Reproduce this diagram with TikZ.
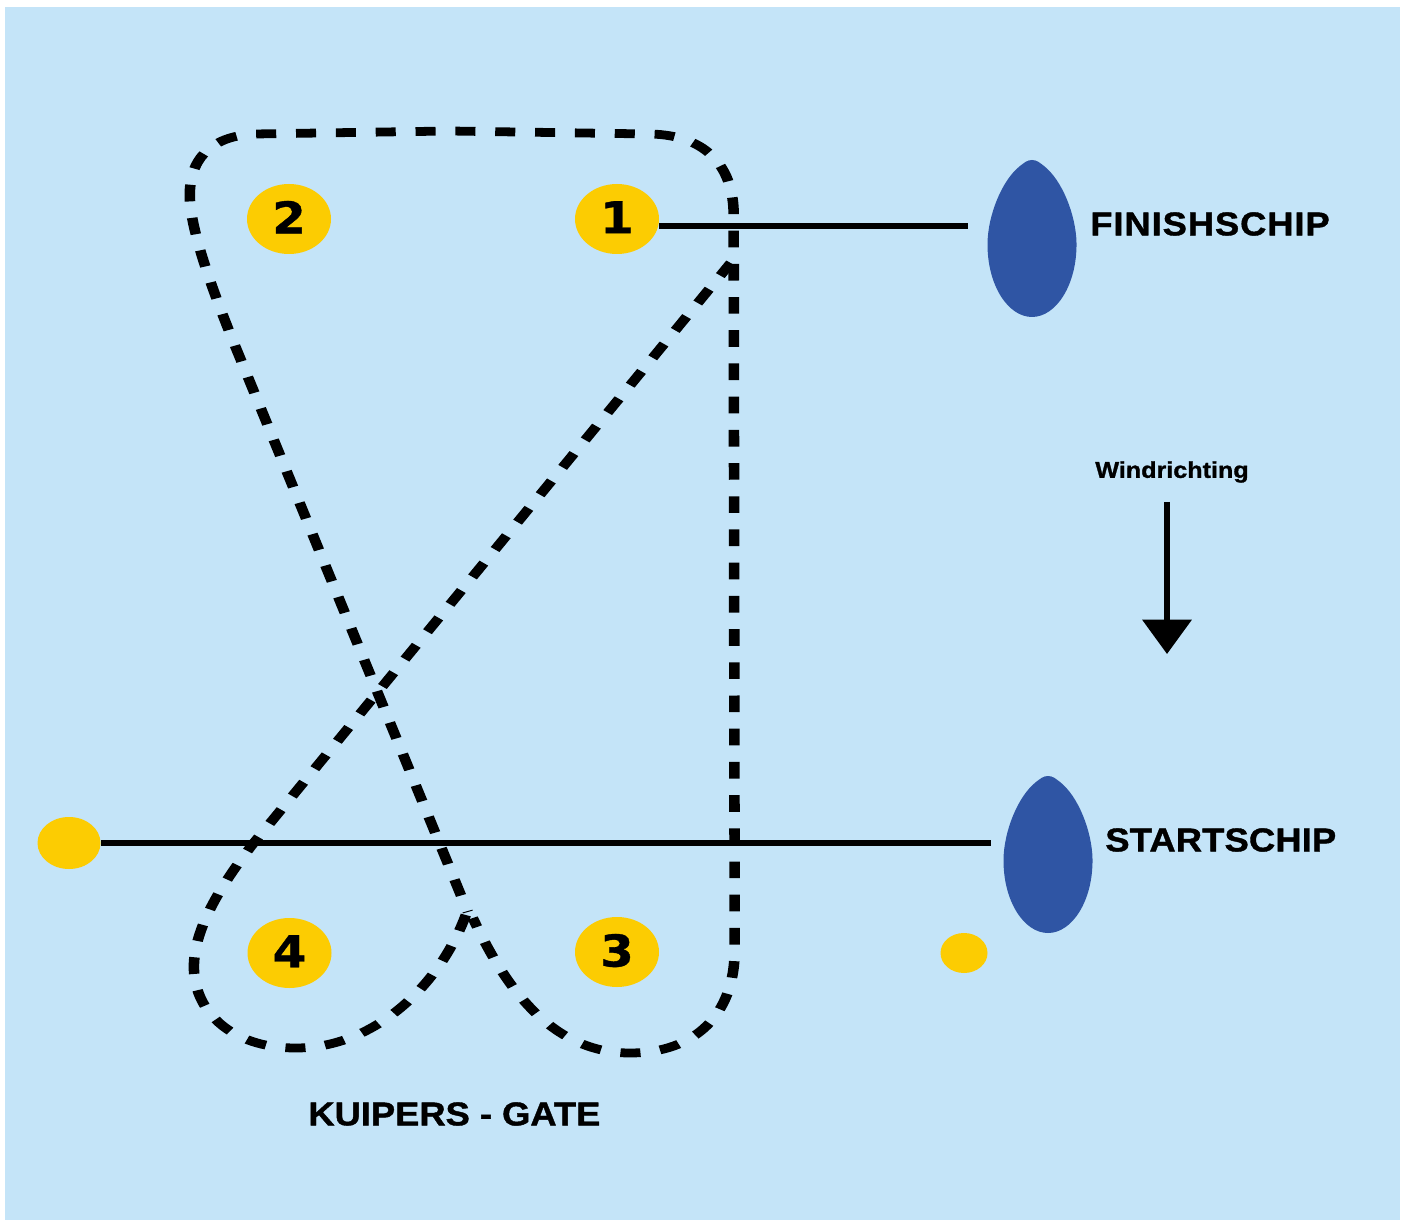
\documentclass[tikz,border=0pt]{standalone}
\usepackage{fontspec}
\usetikzlibrary{arrows.meta,shapes.geometric}
\newfontfamily\labelfont[FakeBold=1.2,FakeStretch=1.10]{Liberation Sans Bold}
\newfontfamily\numberfont[FakeBold=0.8,FakeStretch=1.1]{DejaVu Sans Bold}
\definecolor{waterblue}{HTML}{C4E4F8}
\definecolor{buoyyellow}{HTML}{FCCC02}
\definecolor{shipblue}{HTML}{2F55A4}
\tikzset{
    buoy/.style = {ellipse, fill=buoyyellow, inner sep=0pt, minimum width=84*0.02cm, minimum height=70*0.02cm, text depth=2pt, font=\numberfont\fontsize{25}{25}\selectfont},
    smallbuoy/.style = {ellipse, fill=buoyyellow, inner sep=0pt},
    course/.style = {black, line width=5pt, dash pattern=on 9.5pt off 9.4pt},
    startline/.style = {black, line width=3.2pt},
    shiplabel/.style = {anchor=west, inner sep=0pt, font=\labelfont\fontsize{18.8}{18.8}\selectfont},
    ship/.pic = {
        \fill[shipblue] (0,0) .. controls (-5,0) and (-8,3) .. (-12,6)
            .. controls (-30,20) and (-44,55) .. (-44.5,83)
            .. controls (-45,125) and (-24,157) .. (0,157)
            .. controls (24,157) and (45,125) .. (44.5,83)
            .. controls (44,55) and (30,20) .. (12,6)
            .. controls (8,3) and (5,0) .. (0,0) -- cycle;
    }
}

\begin{document}
\begin{tikzpicture}[x=0.02cm, y=-0.02cm]
    \useasboundingbox (0,0) rectangle (1405,1222);
    \fill[waterblue] (5,7) rectangle (1400,1220);

    % ronde, the drawing is stretched 1.2 in x
    \begin{scope}[x=0.016667cm, transform canvas={xscale=1.2}]
        \draw[course, dash phase=4pt] (473,918) .. controls (500,975) and (545,1053) .. (630,1053)
            .. controls (695,1053) and (735,1015) .. (735,950)
            -- (734,215)
            .. controls (734,170) and (710,135) .. (650,134)
            -- (450,131) -- (255,134)
            .. controls (210,136) and (188,160) .. (190,200)
            .. controls (192,235) and (214,295) .. (241,360)
            -- (468,912);
        \draw[course] (466,915) .. controls (440,985) and (375,1048) .. (296,1048)
            .. controls (230,1048) and (193,1010) .. (194,965)
            .. controls (195,925) and (225,880) .. (253,844)
            -- (731,263);
    \end{scope}

    % boeien
    \node[buoy] (buoyOne) at (617,219) {1};
    \node[buoy] (buoyTwo) at (289,219) {2};
    \node[buoy] (buoyThree) at (617,952) {3};
    \node[buoy] (buoyFour) at (289.5,953) {4};
    \node[smallbuoy, minimum width=63*0.02cm, minimum height=52*0.02cm] (pinEnd) at (69,843) {};
    \node[smallbuoy, minimum width=47*0.02cm, minimum height=40*0.02cm] (gateBuoy) at (964,953) {};

    % schepen
    \pic at (1032,160) {ship};
    \pic at (1048,776) {ship};
    \coordinate (finishEnd) at (968,226);
    \coordinate (startEnd) at (991,843);
    \draw[startline] (buoyOne.east |- finishEnd) -- (finishEnd);
    \draw[startline] (pinEnd.east) -- (startEnd);

    \node[shiplabel] (finishLabel) at (1090,224) {\addfontfeature{LetterSpace=2.8}FINISHSCHIP};
    \node[shiplabel] (startLabel) at (1105,840) {\addfontfeature{LetterSpace=0.5}STARTSCHIP};
    \node[shiplabel] (gateLabel) at (308,1114) {KUIPERS - GATE};

    % wind
    \node[shiplabel, font=\labelfont\fontsize{13}{13}\selectfont] (windLabel) at (1095,472) {Windrichting};
    \coordinate (windTop) at (1167,502);
    \coordinate (windTip) at (1167,654);
    \draw[line width=2.9pt, -{Triangle[width=27.6pt,length=19.5pt]}] (windTop) -- (windTip);
\end{tikzpicture}
\end{document}
